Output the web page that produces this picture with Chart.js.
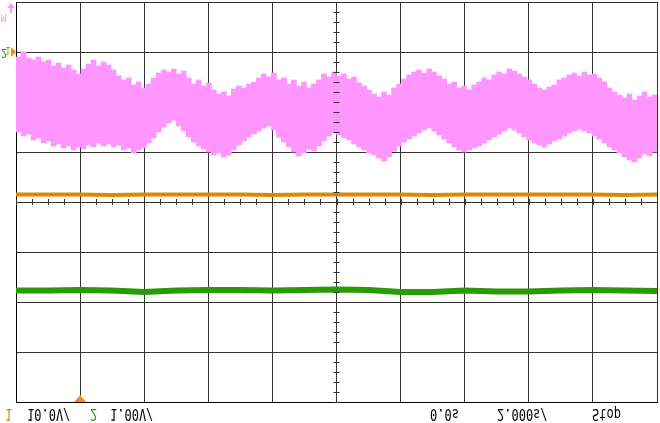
<!DOCTYPE html>
<html>
<head>
<meta charset="utf-8">
<script src="https://cdn.jsdelivr.net/npm/chart.js@4/dist/chart.umd.min.js"></script>
<style>
  body { margin: 0; background: #fff; }
  canvas { display: block; }
</style>
</head>
<body>
<canvas id="scopeChart" width="660" height="423"></canvas>
<script>
// values in screen divisions (8 vertical divisions, centre = 0), time in seconds (2 s/div)
const pinkHigh = [
  2.90, 3.00, 2.88, 2.84, 2.90, 2.80, 2.84, 2.72, 2.78, 2.68,
  2.74, 2.64, 2.56, 2.66, 2.76, 2.84, 2.72, 2.80, 2.74, 2.64,
  2.52, 2.44, 2.48, 2.34, 2.40, 2.28, 2.36, 2.48, 2.58, 2.64,
  2.60, 2.66, 2.56, 2.62, 2.48, 2.36, 2.44, 2.32, 2.38, 2.24,
  2.16, 2.20, 2.12, 2.26, 2.32, 2.28, 2.36, 2.40, 2.48, 2.56,
  2.50, 2.58, 2.44, 2.48, 2.36, 2.44, 2.32, 2.40, 2.28, 2.36,
  2.44, 2.56, 2.50, 2.60, 2.52, 2.56, 2.46, 2.50, 2.38, 2.32,
  2.24, 2.16, 2.10, 2.20, 2.14, 2.28, 2.36, 2.46, 2.54, 2.60,
  2.64, 2.58, 2.66, 2.60, 2.52, 2.46, 2.36, 2.40, 2.28, 2.32,
  2.24, 2.34, 2.40, 2.48, 2.44, 2.54, 2.60, 2.56, 2.66, 2.62,
  2.56, 2.50, 2.44, 2.36, 2.28, 2.24, 2.30, 2.34, 2.44, 2.48,
  2.54, 2.58, 2.52, 2.60, 2.54, 2.56, 2.48, 2.40, 2.28, 2.20,
  2.14, 2.08, 2.16, 2.04, 2.12, 2.20, 2.10, 2.14
];
const pinkLow = [
  1.40, 1.32, 1.36, 1.24, 1.28, 1.18, 1.22, 1.12, 1.16, 1.08,
  1.12, 1.04, 1.10, 1.06, 1.14, 1.10, 1.18, 1.12, 1.16, 1.10,
  1.14, 1.04, 1.08, 0.98, 1.04, 1.08, 1.18, 1.28, 1.40, 1.50,
  1.58, 1.64, 1.52, 1.42, 1.30, 1.20, 1.12, 1.06, 1.00, 0.94,
  0.98, 0.90, 0.94, 1.04, 1.14, 1.22, 1.30, 1.36, 1.42, 1.48,
  1.52, 1.44, 1.30, 1.20, 1.10, 1.00, 0.92, 0.98, 1.06, 1.02,
  1.12, 1.22, 1.32, 1.38, 1.34, 1.28, 1.24, 1.16, 1.10, 1.04,
  0.98, 0.94, 0.88, 0.82, 0.90, 1.02, 1.12, 1.20, 1.26, 1.32,
  1.38, 1.44, 1.48, 1.42, 1.34, 1.26, 1.18, 1.10, 1.04, 1.00,
  1.04, 1.08, 1.12, 1.18, 1.24, 1.30, 1.36, 1.42, 1.48, 1.44,
  1.38, 1.30, 1.24, 1.18, 1.14, 1.10, 1.16, 1.22, 1.26, 1.32,
  1.38, 1.42, 1.46, 1.42, 1.38, 1.32, 1.26, 1.18, 1.10, 1.04,
  0.98, 0.90, 0.84, 0.80, 0.88, 0.96, 0.92, 1.00
];
const traceTimes = [-2, -1, 0, 1, 2, 3, 4, 5, 6, 7, 8, 9, 10, 11, 12, 13, 14, 15, 16, 17, 18];
const ch1Values = [0.15, 0.15, 0.15, 0.14, 0.15, 0.15, 0.15, 0.15, 0.14, 0.15, 0.15,
                   0.15, 0.15, 0.14, 0.15, 0.15, 0.15, 0.15, 0.15, 0.14, 0.15];
const ch2Values = [-1.77, -1.77, -1.76, -1.77, -1.80, -1.77, -1.76, -1.76, -1.77, -1.76, -1.75,
                   -1.76, -1.80, -1.80, -1.77, -1.79, -1.79, -1.77, -1.76, -1.77, -1.78];
const timeStart = -2;
const timeEnd = 18;

const pinkColor = '#ff96ff';
const ch1Color = '#d98a00';
const ch2Color = '#2a9a08';

const sampleStep = (timeEnd - timeStart) / pinkHigh.length;
const pinkData = pinkLow.map((lo, i) => ({ x: timeStart + (i + 0.5) * sampleStep, y: [lo, pinkHigh[i]] }));

// centre cross ticks, channel markers and the (upside down) readout
const scopeDecor = {
  id: 'scopeDecor',
  afterDraw(chart) {
    const c = chart.ctx;
    const xs = chart.scales.x, ys = chart.scales.y;
    const cx = xs.getPixelForValue(8), cy = ys.getPixelForValue(0);
    c.save();
    c.strokeStyle = '#333';
    c.lineWidth = 1;
    c.beginPath();
    for (let t = timeStart; t <= timeEnd; t += 0.5) {
      const px = Math.round(xs.getPixelForValue(t)) + 0.5;
      c.moveTo(px, cy - 3); c.lineTo(px, cy + 3);
    }
    for (let v = -4; v <= 4.001; v += 0.2) {
      const py = Math.round(ys.getPixelForValue(v)) + 0.5;
      c.moveTo(cx - 3, py); c.lineTo(cx + 3, py);
    }
    c.stroke();

    // trigger position marker
    const tx = xs.getPixelForValue(0);
    c.fillStyle = '#ff8c00';
    c.beginPath();
    c.moveTo(tx, chart.chartArea.bottom - 7);
    c.lineTo(tx + 6, chart.chartArea.bottom);
    c.lineTo(tx - 6, chart.chartArea.bottom);
    c.closePath();
    c.fill();

    // channel markers on the left
    const my = ys.getPixelForValue(3);
    c.beginPath();
    c.moveTo(chart.chartArea.left, my);
    c.lineTo(chart.chartArea.left - 5, my - 5);
    c.lineTo(chart.chartArea.left - 5, my + 5);
    c.closePath();
    c.fill();
    c.fillStyle = pinkColor;
    c.beginPath();
    c.moveTo(11, 3); c.lineTo(15, 8); c.lineTo(7, 8); c.closePath();
    c.fill();
    c.fillRect(10, 8, 2, 5);

    const flipped = (txt, x, y, color, size) => {
      c.save();
      c.translate(x, y);
      c.scale(1, -1.25);
      c.fillStyle = color;
      c.font = size + 'px "DejaVu Sans Mono"';
      c.textBaseline = 'middle';
      c.fillText(txt, 0, 0);
      c.restore();
    };
    flipped('M', 1, 17, pinkColor, 9);
    flipped('2', 1, 52, ch2Color, 10);
    flipped('1', 5, 50, ch1Color, 9);

    const ty = 413;
    flipped('1', 5, ty, ch1Color, 12);
    flipped('10.0V/', 27, ty, '#000', 12);
    flipped('2', 90, ty, ch2Color, 12);
    flipped('1.00V/', 110, ty, '#000', 12);
    flipped('0.0s', 430, ty, '#000', 12);
    flipped('2.000s/', 497, ty, '#000', 12);
    flipped('Stop', 592, ty, '#000', 12);
    c.restore();
  }
};

const ctx = document.getElementById('scopeChart').getContext('2d');
const scopeChart = new Chart(ctx, {
  type: 'bar',
  data: {
    datasets: [{
      type: 'line',
      label: 'CH1',
      data: traceTimes.map((t, i) => ({ x: t, y: ch1Values[i] })),
      borderColor: ch1Color,
      borderWidth: 4,
      pointRadius: 0,
      order: 1
    }, {
      type: 'line',
      label: 'CH2',
      data: traceTimes.map((t, i) => ({ x: t, y: ch2Values[i] })),
      borderColor: ch2Color,
      borderWidth: 6,
      pointRadius: 0,
      order: 1
    }, {
      type: 'bar',
      label: 'M',
      data: pinkData,
      backgroundColor: pinkColor,
      borderWidth: 0,
      barPercentage: 1,
      categoryPercentage: 1,
      order: 2
    }]
  },
  options: {
    responsive: false,
    animation: false,
    layout: {
      padding: { left: 16, top: 2, right: 3, bottom: 21 }
    },
    plugins: {
      legend: { display: false },
      tooltip: { enabled: false }
    },
    scales: {
      x: {
        type: 'linear',
        offset: false,
        min: timeStart,
        max: timeEnd,
        ticks: { display: false, stepSize: 2 },
        grid: { color: '#333', lineWidth: 1, drawTicks: false, offset: false },
        border: { color: '#000', width: 1 }
      },
      y: {
        min: -4,
        max: 4,
        ticks: { display: false, stepSize: 1 },
        grid: { color: '#333', lineWidth: 1, drawTicks: false },
        border: { color: '#000', width: 1 }
      }
    }
  },
  plugins: [scopeDecor]
});
</script>
</body>
</html>
